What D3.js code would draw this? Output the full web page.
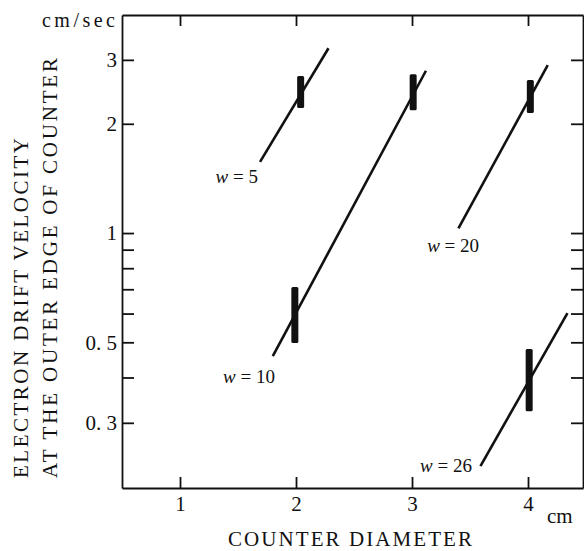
<!DOCTYPE html>
<html>
<head>
<meta charset="utf-8">
<script src="https://cdn.jsdelivr.net/npm/d3@7"></script>
<style>
  body { margin: 0; background: #fff; }
  svg, svg text { font-family: "Liberation Serif", Tinos, "Times New Roman", Times, "Noto Serif", "DejaVu Serif", FreeSerif, serif !important; fill: #111; }
  .axis path, .axis line { stroke: #111; stroke-width: 1.8; }
</style>
</head>
<body>
<div id="fig"></div>
<script>
// curve parameter w, one fitted line each
var wValues = [5, 10, 20, 26];
var lineStart = [[1.69, 1.57], [1.80, 0.458], [3.40, 1.03], [3.59, 0.228]];
var lineEnd = [[2.28, 3.23], [3.12, 2.80], [4.17, 2.90], [4.34, 0.602]];
// where each "w = .." label ends (text anchored at end)
var labelPos = [[1.672, 1.373], [1.819, 0.386], [3.578, 0.886], [3.517, 0.2196]];

// measured points, shown as vertical error bars
var barX = [2.04, 1.99, 3.01, 4.02, 4.01];
var barLow = [2.21, 0.498, 2.18, 2.14, 0.323];
var barHigh = [2.71, 0.710, 2.74, 2.64, 0.479];

// axis ticks
var xTicks = [1, 2, 3, 4];
var yMajor = [3, 2, 1, 0.5, 0.3];
var yMajorLabels = ["3", "2", "1", "0. 5", "0. 3"];
var yMinor = [0.9, 0.8, 0.7, 0.6, 0.4];

var W = 584, H = 551;
var box = {left: 122, right: 583, top: 15, bottom: 488};
var serif = '"Liberation Serif", Tinos, "Times New Roman", Times, "Noto Serif", "DejaVu Serif", serif';

var svg = d3.select("#fig").append("svg")
    .attr("width", W)
    .attr("height", H)
    .attr("font-family", serif);

var x = d3.scaleLinear()
    .domain([0.5, 4.474])
    .range([box.left, box.right]);

var y = d3.scaleLog()
    .domain([0.1984, 3.988])
    .range([box.bottom, box.top]);

var allY = yMajor.concat(yMinor);

// bottom axis, ticks point inward
svg.append("g")
    .attr("class", "axis")
    .attr("transform", "translate(0," + box.bottom + ")")
    .call(d3.axisBottom(x).tickValues(xTicks).tickSize(-11).tickSizeOuter(0).tickPadding(8)
      .tickFormat(d3.format("d")));

// top axis, no labels
svg.append("g")
    .attr("class", "axis")
    .attr("transform", "translate(0," + box.top + ")")
    .call(d3.axisTop(x).tickValues(xTicks).tickSize(-11).tickSizeOuter(0).tickFormat(""));

// left axis
svg.append("g")
    .attr("class", "axis")
    .attr("transform", "translate(" + box.left + ",0)")
    .call(d3.axisLeft(y).tickValues(allY).tickSize(-12).tickSizeOuter(0).tickPadding(5)
      .tickFormat(function(d) {
        var i = yMajor.indexOf(d);
        return i < 0 ? "" : yMajorLabels[i];
      }));

// right axis
svg.append("g")
    .attr("class", "axis")
    .attr("transform", "translate(" + box.right + ",0)")
    .call(d3.axisRight(y).tickValues(allY).tickSize(-12).tickSizeOuter(0).tickFormat(""));

svg.selectAll(".axis")
    .attr("font-family", serif)
    .attr("font-size", 21);
svg.selectAll(".axis text").attr("fill", "#111");

// fitted lines
svg.append("g")
  .selectAll("line")
  .data(wValues)
  .enter().append("line")
    .attr("x1", function(d, i) { return x(lineStart[i][0]); })
    .attr("y1", function(d, i) { return y(lineStart[i][1]); })
    .attr("x2", function(d, i) { return x(lineEnd[i][0]); })
    .attr("y2", function(d, i) { return y(lineEnd[i][1]); })
    .attr("stroke", "#111")
    .attr("stroke-width", 2.6);

// error bars
svg.append("g")
  .selectAll("rect")
  .data(barX)
  .enter().append("rect")
    .attr("x", function(d) { return x(d) - 3.5; })
    .attr("y", function(d, i) { return y(barHigh[i]); })
    .attr("width", 7)
    .attr("height", function(d, i) { return y(barLow[i]) - y(barHigh[i]); })
    .attr("rx", 1.5)
    .attr("fill", "#111");

// w labels
var lab = svg.append("g")
  .selectAll("text")
  .data(wValues)
  .enter().append("text")
    .attr("x", function(d, i) { return x(labelPos[i][0]); })
    .attr("y", function(d, i) { return y(labelPos[i][1]); })
    .style("font-size", "19px")
    .style("text-anchor", "end");
lab.append("tspan").style("font-style", "italic").text("w");
lab.append("tspan").text(function(d) { return " = " + d; });

// unit labels
svg.append("text")
    .attr("x", 115).attr("y", 27)
    .style("font-size", "20px")
    .style("text-anchor", "end")
    .attr("textLength", 73)
    .attr("lengthAdjust", "spacing")
    .text("cm/sec");

svg.append("text")
    .attr("x", 547).attr("y", 523)
    .style("font-size", "21px")
    .text("cm");

// x title
svg.append("text")
    .attr("x", 228).attr("y", 546)
    .style("font-size", "21px")
    .attr("textLength", 244)
    .attr("lengthAdjust", "spacing")
    .text("COUNTER DIAMETER");

// y title, two lines
svg.append("text")
    .attr("transform", "translate(28,478) rotate(-90)")
    .style("font-size", "21px")
    .attr("textLength", 340)
    .attr("lengthAdjust", "spacing")
    .text("ELECTRON DRIFT VELOCITY");

svg.append("text")
    .attr("transform", "translate(57,478) rotate(-90)")
    .style("font-size", "21px")
    .attr("textLength", 420)
    .attr("lengthAdjust", "spacing")
    .text("AT THE OUTER EDGE OF COUNTER");
</script>
</body>
</html>
